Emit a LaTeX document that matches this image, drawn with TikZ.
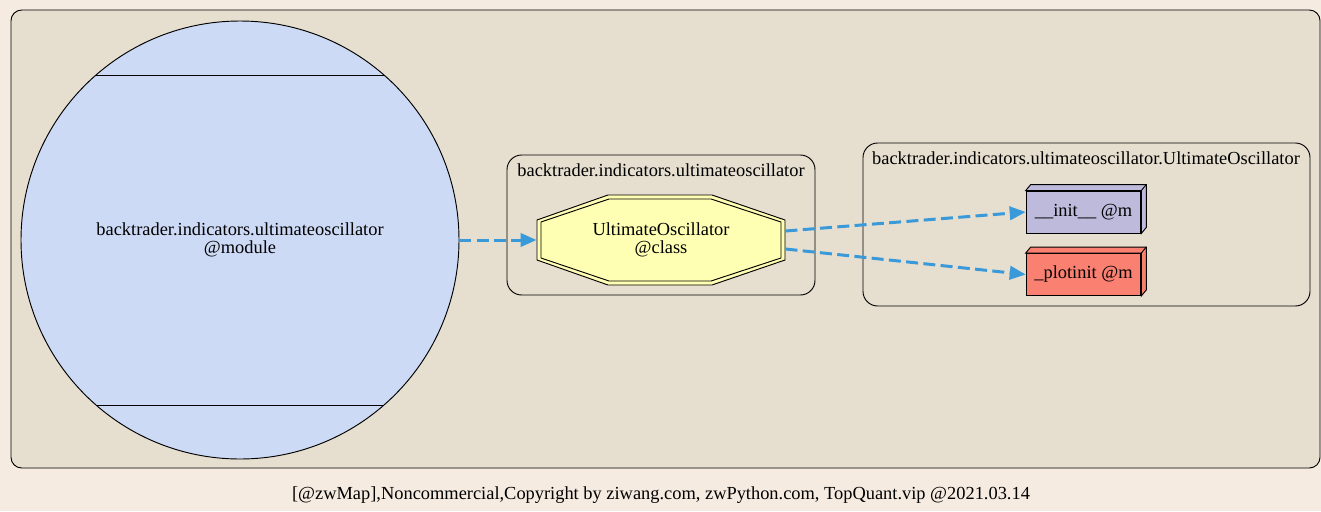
\documentclass[tikz,border=0pt]{standalone}
\usepackage{fontspec}
\setmainfont{Liberation Serif}
\usetikzlibrary{calc, positioning, arrows.meta}
\definecolor{pagebg}{HTML}{F6EBE1}
\definecolor{clusterbg}{HTML}{E6DFD0}
\definecolor{modblue}{HTML}{CDDAF5}
\definecolor{classyellow}{HTML}{FFFFB3}
\definecolor{initpurple}{HTML}{BDBADB}
\definecolor{plotsalmon}{HTML}{FA8072}
\definecolor{edgeblue}{HTML}{3A9AD9}
\tikzset{
  cluster/.style={draw, fill=clusterbg, rounded corners=11pt},
  callarrow/.style={edgeblue, line width=2.25pt, dash pattern=on 9pt off 4pt,
    -{Triangle[length=12pt,width=10pt]}},
  methbox/.style={draw, minimum width=86pt, minimum height=31.5pt, inner sep=0pt},
}

\begin{document}
\begin{tikzpicture}[x=0.75pt, y=-0.75pt, line width=0.7pt,
    font=\fontsize{13.8}{13.5}\selectfont]
	\fill[pagebg] (0,0) rectangle (1321,511);
	\useasboundingbox (0,0) rectangle (1321,511);
	\draw[cluster, rounded corners=8pt] (11,10) rectangle (1320,468);
	\draw[cluster] (507,155) rectangle (815,295);
	\draw[cluster] (863,143) rectangle (1310,306);
	\node (lblmod) at (661,170) {backtrader.indicators.ultimateoscillator};
	\node (lblcls) at (1086,158) {backtrader.indicators.ultimateoscillator.UltimateOscillator};
	% module
	\node[draw, circle, fill=modblue, minimum size=328.5pt, align=center] (mod) at (240,240)
		{backtrader.indicators.ultimateoscillator\\@module};
	\draw ($(mod.center)+(-144,-165)$) -- ++(288,0);
	\draw ($(mod.center)+(-144,165)$) -- ++(288,0);
	% class
	\draw[fill=classyellow] (537,220) -- (608,195) -- (712,195) -- (785,220) -- (785,260) -- (712,285) -- (608,285) -- (537,260) -- cycle;
	\draw (541,222) -- (609,199) -- (711,199) -- (781,222) -- (781,258) -- (711,281) -- (609,281) -- (541,258) -- cycle;
	\node[minimum width=186pt, minimum height=67.5pt, align=center] (cls) at (661,240) {UltimateOscillator\\@class};
	% methods
	\node[methbox, fill=initpurple] (init) at (1083.5,212) {\_\_init\_\_ @m};
	\node[methbox, fill=plotsalmon] (plot) at (1083.5,274.5) {\_plotinit @m};
	\foreach \m/\c in {init/initpurple, plot/plotsalmon} {
		\draw[fill=\c] (\m.north west) -- ++(5,-6) -- ($(\m.north east)+(5,-6)$) -- ($(\m.south east)+(5,-6)$) -- (\m.south east) -- (\m.north east) -- cycle;
		\draw (\m.north east) -- ++(5,-6);
	}
	\draw[callarrow] (mod.east) -- (cls.west);
	\draw[callarrow] ($(cls.east)+(0,-9)$) -- (init.west);
	\draw[callarrow] ($(cls.east)+(0,9)$) -- (plot.west);
	\node (foot) at (661,495) {[@zwMap],Noncommercial,Copyright by ziwang.com, zwPython.com, TopQuant.vip @2021.03.14};
\end{tikzpicture}
\end{document}
